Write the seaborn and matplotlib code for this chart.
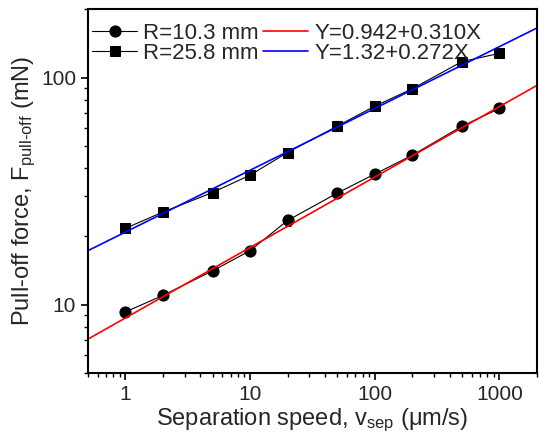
import numpy as np
import seaborn as sb
import matplotlib.pyplot as plt
from matplotlib.ticker import LogLocator, NullFormatter, FixedLocator, FixedFormatter

speed = [1, 2, 5, 10, 20, 50, 100, 200, 500, 1000]
force_r103 = [9.3, 11.0, 14.1, 17.3, 23.5, 31.0, 37.6, 45.5, 61.0, 73.1]
err_r103 = [0.3, 0.3, 0.4, 0.4, 1.3, 0.8, 0.8, 0.8, 1.0, 1.2]
force_r258 = [21.7, 25.6, 31.2, 37.2, 46.8, 61.1, 74.8, 89.2, 117.5, 127.8]
err_r258 = [0.6, 0.7, 0.7, 0.8, 1.2, 3.0, 1.5, 1.5, 2.0, 2.0]
# log-log fits: log10(F) = a + b*log10(v)
fit_red = (0.942, 0.310)
fit_blue = (1.32, 0.272)
fit_x = [0.5, 2000]

sb.set_style('ticks')
plt.rcParams['font.family'] = ['Liberation Sans', 'DejaVu Sans']
plt.rcParams['mathtext.fontset'] = 'custom'
plt.rcParams['mathtext.rm'] = 'Liberation Sans'
plt.rcParams['mathtext.it'] = 'Liberation Sans:italic'

fig = plt.figure(figsize=(5.39, 4.37), dpi=100)
ax = fig.add_axes([0.163, 0.146, 0.833, 0.833])

ax.errorbar(speed, force_r103, yerr=err_r103, fmt='none', ecolor='k', elinewidth=0.8, capsize=2, capthick=0.8)
ax.errorbar(speed, force_r258, yerr=err_r258, fmt='none', ecolor='k', elinewidth=0.8, capsize=2, capthick=0.8)
sb.lineplot(x=speed, y=force_r103, ax=ax, color='k', lw=0.8, marker='o', markersize=8,
            markeredgecolor='k', label='R=10.3 mm')
sb.lineplot(x=speed, y=force_r258, ax=ax, color='k', lw=0.8, marker='s', markersize=7,
            markeredgecolor='k', label='R=25.8 mm')
fx = np.array(fit_x)
sb.lineplot(x=fx, y=10 ** (fit_red[0] + fit_red[1] * np.log10(fx)), ax=ax, color='#ff0000', lw=1.2,
            label='Y=0.942+0.310X')
sb.lineplot(x=fx, y=10 ** (fit_blue[0] + fit_blue[1] * np.log10(fx)), ax=ax, color='#0000ff', lw=1.2,
            label='Y=1.32+0.272X')

ax.set_xscale('log')
ax.set_yscale('log')
ax.set_xlim(0.5, 2000)
ax.set_ylim(5, 200)

ax.xaxis.set_major_locator(FixedLocator([1, 10, 100, 1000]))
ax.xaxis.set_major_formatter(FixedFormatter(['1', '10', '100', '1000']))
ax.xaxis.set_minor_locator(LogLocator(base=10, subs=np.arange(2, 10)))
ax.xaxis.set_minor_formatter(NullFormatter())
ax.yaxis.set_major_locator(FixedLocator([10, 100]))
ax.yaxis.set_major_formatter(FixedFormatter(['10', '100']))
ax.yaxis.set_minor_locator(LogLocator(base=10, subs=np.arange(2, 10)))
ax.yaxis.set_minor_formatter(NullFormatter())

ax.tick_params(which='major', direction='out', length=5, width=1.2, labelsize=15, color='k')
ax.tick_params(which='minor', direction='out', length=3, width=1.0, color='k')
for s in ax.spines.values():
    s.set_linewidth(1.5)
    s.set_color('k')

ax.set_xlabel('Separation speed, v$_{\\mathrm{sep}}$ (μm/s)', fontsize=17, labelpad=2)
ax.set_ylabel('Pull-off force, F$_{\\text{pull-off}}$ (mN)', fontsize=17, labelpad=2)

h, l = ax.get_legend_handles_labels()
ax.legend(h, l, ncol=2, loc='upper left', bbox_to_anchor=(0.0, 0.975), frameon=False, fontsize=16,
          handlelength=2.0, labelspacing=-0.05, columnspacing=0.2, handletextpad=0.3,
          borderaxespad=0.0, borderpad=0.2)

plt.savefig('out.png', dpi=100)
plt.close()
